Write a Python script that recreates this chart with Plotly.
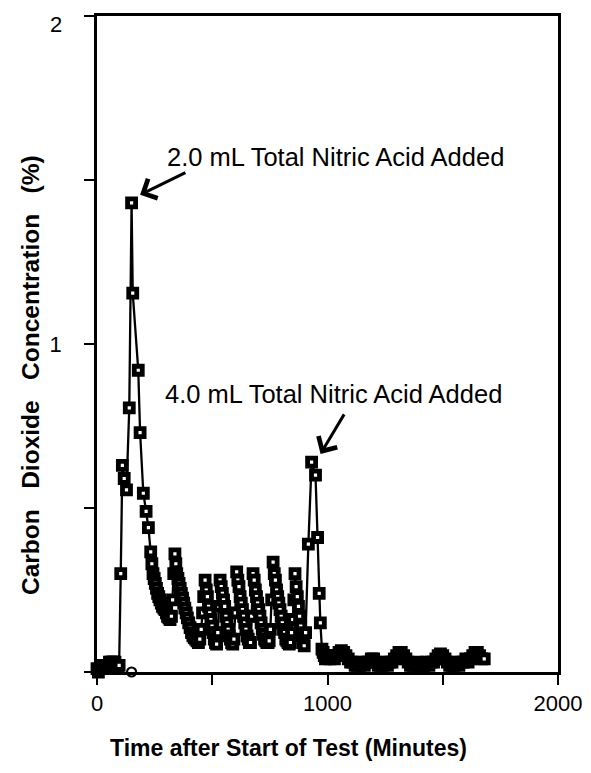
import plotly.graph_objects as go

# ---- data: time after start of test (minutes) and CO2 concentration (%) ----
time_base = [0, 6, 12, 18, 24, 30, 36, 42, 48, 54, 60, 66, 72, 78, 84, 90, 96]
co2_base = [0.01, 0.00, 0.01, 0.02, 0.01, 0.01, 0.02, 0.02, 0.02, 0.03, 0.03,
            0.03, 0.03, 0.03, 0.02, 0.02, 0.02]

time_peak1 = [103, 110, 118, 128, 140, 150, 155, 179, 187, 201, 213, 223, 233]
co2_peak1 = [0.30, 0.63, 0.59, 0.555, 0.805, 1.43, 1.155, 0.92, 0.73, 0.545,
             0.49, 0.44, 0.366]

time_decay = [238, 243, 248, 253, 258, 263, 268, 273, 279, 284, 290, 295, 301,
              306, 312, 317, 323, 328, 333,
              338, 342, 346, 351, 356, 361, 366, 371, 376, 381, 387, 392, 398,
              404, 410, 416, 422, 428, 434, 440, 446, 452, 458, 463,
              469, 474, 479, 484, 489, 494, 499, 504, 509, 514, 519, 524, 529,
              534, 539, 544, 549, 554, 559, 564, 569, 574, 579, 584, 589, 594, 600,
              606, 611, 616, 621, 626, 631, 636, 641, 646, 651, 656, 661, 666, 671,
              677, 682, 687, 692, 697, 702, 707, 712, 717, 722, 727, 732, 737, 742,
              747, 752, 758,
              764, 769, 774, 779, 784, 789, 794, 799, 804, 809, 814, 819, 824, 829,
              834, 839, 844, 849, 854,
              859, 864, 869, 874, 879, 884, 889, 894, 899, 905]
co2_decay = [0.33, 0.30, 0.285, 0.27, 0.255, 0.24, 0.23, 0.22, 0.21, 0.20, 0.195,
             0.19, 0.18, 0.17, 0.165, 0.16, 0.17, 0.22, 0.30,
             0.36, 0.33, 0.30, 0.285, 0.27, 0.255, 0.24, 0.225, 0.21, 0.195, 0.18,
             0.165, 0.15, 0.135, 0.12, 0.11, 0.105, 0.10, 0.095, 0.09, 0.10, 0.13,
             0.18, 0.23,
             0.28, 0.25, 0.23, 0.20, 0.18, 0.16, 0.14, 0.12, 0.10, 0.09, 0.085,
             0.12, 0.20,
             0.28, 0.26, 0.24, 0.22, 0.20, 0.17, 0.15, 0.13, 0.11, 0.10, 0.09,
             0.085, 0.10, 0.18,
             0.305, 0.28, 0.26, 0.23, 0.21, 0.19, 0.17, 0.15, 0.13, 0.11, 0.10,
             0.09, 0.09, 0.17,
             0.30, 0.28, 0.25, 0.23, 0.21, 0.19, 0.17, 0.15, 0.13, 0.115, 0.10,
             0.095, 0.09, 0.09, 0.095, 0.13, 0.22,
             0.335, 0.30, 0.28, 0.25, 0.23, 0.21, 0.19, 0.17, 0.15, 0.13, 0.12,
             0.10, 0.095, 0.09, 0.085, 0.09, 0.12, 0.16, 0.22,
             0.30, 0.26, 0.23, 0.20, 0.17, 0.14, 0.11, 0.09, 0.08, 0.12]

time_peak2 = [917, 931, 948, 957, 964, 969, 976, 981, 986, 991]
co2_peak2 = [0.39, 0.64, 0.60, 0.41, 0.24, 0.15, 0.07, 0.06, 0.05, 0.04]

time_tail = [1000, 1010, 1020, 1030, 1040, 1050, 1060, 1070, 1080, 1090,
             1100, 1110, 1120, 1130, 1140, 1150, 1160, 1170, 1180, 1190,
             1200, 1210, 1220, 1230, 1240, 1250, 1260, 1270, 1280, 1290,
             1300, 1310, 1320, 1330, 1340, 1350, 1360, 1370, 1380, 1390,
             1400, 1410, 1420, 1430, 1440, 1450, 1460, 1470, 1480, 1490,
             1500, 1510, 1520, 1530, 1540, 1550, 1560, 1570, 1580, 1590,
             1600, 1610, 1620, 1630, 1640, 1650, 1660, 1670, 1680]
co2_tail = [0.05, 0.04, 0.05, 0.04, 0.05, 0.06, 0.065, 0.06, 0.05, 0.04,
            0.03, 0.03, 0.02, 0.02, 0.02, 0.03, 0.02, 0.03, 0.03, 0.04,
            0.04, 0.03, 0.02, 0.02, 0.02, 0.03, 0.02, 0.03, 0.03, 0.04,
            0.05, 0.06, 0.06, 0.05, 0.04, 0.03, 0.02, 0.02, 0.02, 0.03,
            0.02, 0.02, 0.02, 0.03, 0.02, 0.03, 0.03, 0.04, 0.05, 0.055,
            0.05, 0.04, 0.03, 0.02, 0.02, 0.02, 0.03, 0.02, 0.03, 0.03,
            0.04, 0.03, 0.04, 0.05, 0.06, 0.06, 0.05, 0.04, 0.04]

# single open circle on the baseline
circle_time = [150]
circle_pct = [0.0]

x_tickvals = [0, 500, 1000, 1500, 2000]
x_ticktext = ["0", "", "1000", "", "2000"]
y_tickvals = [0, 0.5, 1, 1.5, 2]
y_ticktext = ["", "", "1", "", ""]
y_top_label = "2"

label_1 = "2.0 mL Total Nitric Acid Added"
label_2 = "4.0 mL Total Nitric Acid Added"
x_title = "Time after Start of Test (Minutes)"
y_words = ["Carbon", "Dioxide", "Concentration", "(%)"]

time_min = time_base + time_peak1 + time_decay + time_peak2 + time_tail
co2_pct = co2_base + co2_peak1 + co2_decay + co2_peak2 + co2_tail
assert len(time_min) == len(co2_pct)

peak1 = (time_peak1[5], co2_peak1[5])
peak2 = (time_peak2[1], co2_peak2[1])

FONT = "Liberation Sans, Arial, Helvetica, sans-serif"

fig = go.Figure()
fig.add_trace(go.Scatter(
    x=time_min, y=co2_pct, mode="lines+markers",
    line=dict(color="black", width=2.3),
    marker=dict(symbol="square", size=8, color="white",
                line=dict(color="black", width=4.8)),
    cliponaxis=False, showlegend=False))
fig.add_trace(go.Scatter(
    x=circle_time, y=circle_pct, mode="markers",
    marker=dict(symbol="circle", size=9, color="white",
                line=dict(color="black", width=2.2)),
    cliponaxis=False, showlegend=False))

# page has an 8px body margin; plot area on page: x 97..558, y 16..672
OFF = 8
W, H = 591 - OFF, 773 - OFF
L, T = 97 - OFF, 16 - OFF
R = W + OFF - 558
B = H + OFF - 672
pw, ph = 558 - 97, 672 - 16

def px(xp):
    return (xp - 97) / pw

def py(yp):
    return (672 - yp) / ph

axis_common = dict(ticks="outside", ticklen=10, tickwidth=2, tickcolor="black",
                   showline=True, linewidth=2.5, linecolor="black", mirror=True,
                   showgrid=False, zeroline=False, automargin=False,
                   ticklabeloverflow="allow",
                   tickfont=dict(size=22, family=FONT, color="black"))

fig.update_layout(
    width=W, height=H,
    margin=dict(l=L, r=R, t=T, b=B, autoexpand=False),
    paper_bgcolor="white", plot_bgcolor="white",
    font=dict(family=FONT, color="black", size=22),
    xaxis=dict(range=[0, 2000], tickvals=x_tickvals, ticktext=x_ticktext,
               **axis_common),
    yaxis=dict(range=[0, 2], tickvals=y_tickvals, ticktext=y_ticktext,
               ticklabelstandoff=18, **axis_common),
)

sp = "\u00a0" * 3
annotations = [
    dict(text=y_top_label, xref="paper", yref="paper",
         x=px(64), y=py(24), xanchor="right", yanchor="middle",
         showarrow=False, font=dict(size=22, family=FONT)),
    dict(text=label_1, xref="paper", yref="paper",
         x=px(165), y=py(157), xanchor="left", yanchor="middle",
         showarrow=False, font=dict(size=25.5, family=FONT)),
    dict(text=label_2, xref="paper", yref="paper",
         x=px(163), y=py(394), xanchor="left", yanchor="middle",
         showarrow=False, font=dict(size=25.5, family=FONT)),
    dict(text="", x=peak1[0] + 37, y=peak1[1] + 0.025, xref="x", yref="y",
         ax=peak1[0] + 240, ay=peak1[1] + 0.095, axref="x", ayref="y",
         showarrow=True, arrowhead=4, arrowsize=1.4, arrowwidth=3,
         arrowcolor="black"),
    dict(text="", x=peak2[0] + 39, y=peak2[1] + 0.025, xref="x", yref="y",
         ax=peak2[0] + 145, ay=peak2[1] + 0.15, axref="x", ayref="y",
         showarrow=True, arrowhead=4, arrowsize=1.4, arrowwidth=3,
         arrowcolor="black"),
    dict(text="<b>" + x_title + "</b>", xref="paper", yref="paper",
         x=px(288), y=py(748), xanchor="center", yanchor="middle",
         showarrow=False, font=dict(size=23, family=FONT)),
    dict(text="<b>" + sp.join(y_words) + "</b>",
         xref="paper", yref="paper", textangle=-90,
         x=px(30), y=py(375), xanchor="center", yanchor="middle",
         showarrow=False, font=dict(size=24.5, family=FONT)),
]
fig.update_layout(annotations=annotations)

fig.write_html("out.html")
